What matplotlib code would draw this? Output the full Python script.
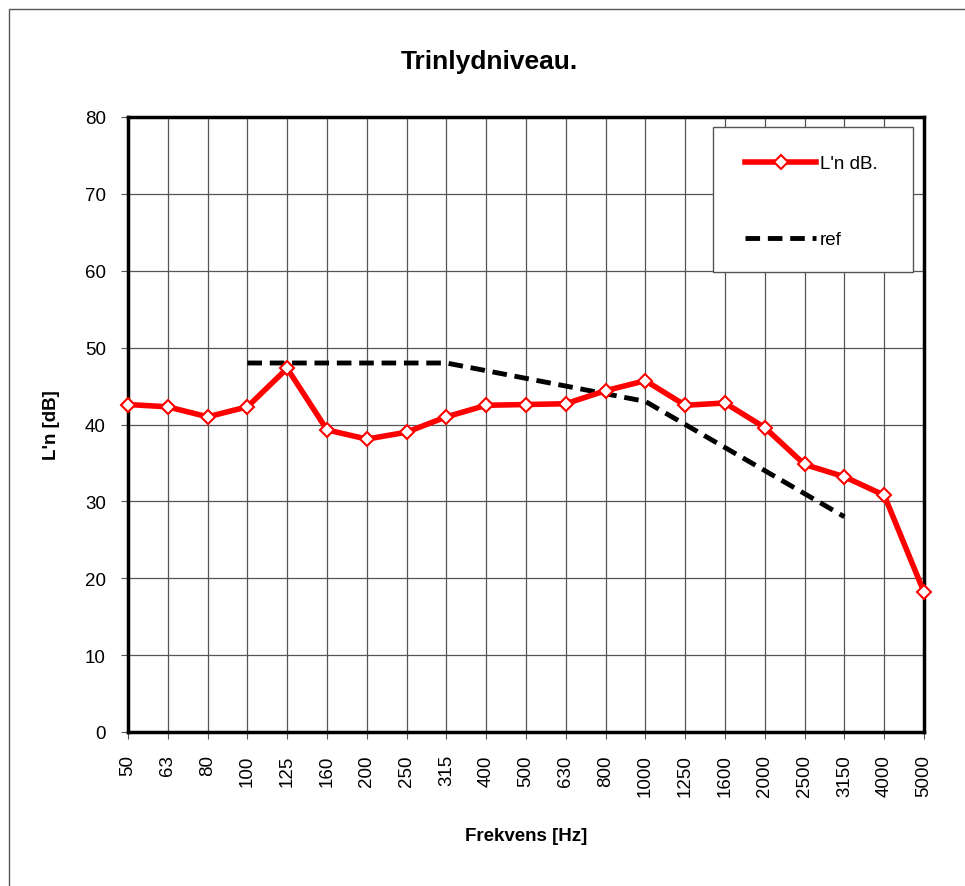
import numpy as np
import matplotlib.pyplot as plt
from matplotlib.patches import Rectangle

# Frequencies (Hz) shown as categories
freqs = ["50", "63", "80", "100", "125", "160", "200", "250", "315", "400",
         "500", "630", "800", "1000", "1250", "1600", "2000", "2500", "3150",
         "4000", "5000"]

# Measured L'n in dB
ln_db = [42.6, 42.3, 41.0, 42.3, 47.3, 39.3, 38.1, 39.0, 41.0, 42.5,
         42.6, 42.7, 44.4, 45.7, 42.5, 42.8, 39.6, 34.8, 33.2, 30.8, 18.2]

# Reference curve (100 - 3150 Hz)
ref_freqs = ["100", "125", "160", "200", "250", "315", "400", "500", "630",
             "800", "1000", "1250", "1600", "2000", "2500", "3150"]
ref_db = [48, 48, 48, 48, 48, 48, 47, 46, 45, 44, 43, 40, 37, 34, 31, 28]

plt.rcParams['font.family'] = ['Liberation Sans', 'DejaVu Sans']

fig = plt.figure(figsize=(9.65, 8.87), dpi=100)
ax = fig.add_axes([128 / 965, 1 - 733 / 887, 796 / 965, 615 / 887])

x = np.arange(len(freqs))
ref_x = [freqs.index(f) for f in ref_freqs]

ax.plot(x, ln_db, color="red", linewidth=4, marker="D", markersize=7,
        markerfacecolor="white", markeredgecolor="red", markeredgewidth=1.5,
        label="L'n dB.", zorder=3, clip_on=False)
ax.plot(ref_x, ref_db, color="black", linewidth=3.5, linestyle=(0, (3, 1.6)),
        label="ref", zorder=2)

ax.set_xlim(0, len(freqs) - 1)
ax.set_ylim(0, 80)
ax.set_xticks(x)
ax.set_xticklabels(freqs, rotation=90, fontsize=13.5)
ax.set_yticks(np.arange(0, 81, 10))
ax.tick_params(axis="y", labelsize=13.5, direction="out", length=5, pad=11,
               color="#555555")
ax.tick_params(axis="x", length=5, pad=11, color="#555555")
ax.grid(True, color="#555555", linewidth=0.9)
ax.set_axisbelow(True)

for side in ["left", "right", "top", "bottom"]:
    ax.spines[side].set_linewidth(2.5)
    ax.spines[side].set_color("black")

ax.set_xlabel("Frekvens [Hz]", fontsize=13.5, fontweight="bold", labelpad=22)
ax.set_ylabel("L'n [dB]", fontsize=13.5, fontweight="bold", labelpad=18)
fig.text(489 / 965, 1 - 62 / 887, "Trinlydniveau.", ha="center", va="center",
         fontsize=19, fontweight="bold")

# Legend box drawn separately to get the wide frame
ax.add_patch(Rectangle((713 / 965, 1 - 273 / 887), 200 / 965, 145 / 887,
                       transform=fig.transFigure, facecolor="white",
                       edgecolor="#555555", linewidth=1.0, zorder=5,
                       clip_on=False))
leg = ax.legend(loc="upper left", bbox_to_anchor=(745 / 965, 1 - 156 / 887),
                bbox_transform=fig.transFigure, fontsize=13.5, frameon=False,
                labelspacing=3.15, handlelength=3.8, handletextpad=0.2,
                borderpad=0, borderaxespad=0)
leg.set_zorder(6)

# Outer chart border
fig.patches.append(Rectangle((9 / 965, -0.01), 1.0, 1 - 10 / 887 + 0.01,
                             transform=fig.transFigure, fill=False,
                             edgecolor="#555555", linewidth=1.0))

fig.savefig("out.png", dpi=100, facecolor="white")
